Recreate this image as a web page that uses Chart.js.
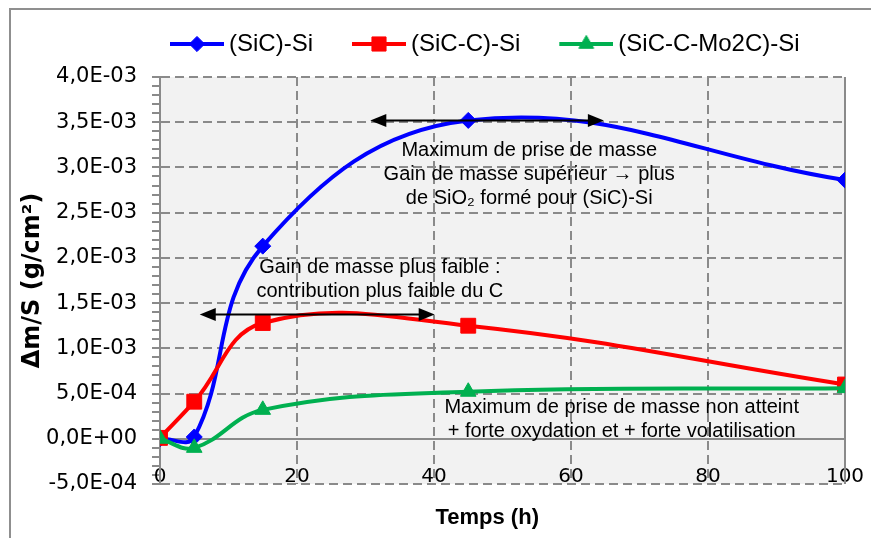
<!DOCTYPE html>
<html>
<head>
<meta charset="utf-8">
<script src="https://cdn.jsdelivr.net/npm/chart.js@4.4.1/dist/chart.umd.min.js"></script>
<style>
  body { margin: 0; background: #fff; overflow: hidden; }
  #frame { position: absolute; left: 9px; top: 8px; width: 1000px; height: 1000px; border: 2px solid #8f8f8f; box-sizing: border-box; }
  #chart { position: absolute; left: 0; top: 0; }
</style>
</head>
<body>
<div id="frame"></div>
<canvas id="chart" width="871" height="538"></canvas>
<script>
// temps (h)
const times = [0, 5, 15, 45, 100];
// delta m / S (g/cm2)
const sicSi = [0.0, 0.00002, 0.00213, 0.00352, 0.00286];
const sicCSi = [0.00001, 0.00041, 0.00128, 0.00125, 0.00060];
const sicCMo2CSi = [0.0, -0.00010, 0.00032, 0.00052, 0.00056];
const seriesNames = ['(SiC)-Si', '(SiC-C)-Si', '(SiC-C-Mo2C)-Si'];

const yTickLabels = ['-5,0E-04', '0,0E+00', '5,0E-04', '1,0E-03', '1,5E-03', '2,0E-03',
    '2,5E-03', '3,0E-03', '3,5E-03', '4,0E-03'];
const xTickLabels = ['0', '20', '40', '60', '80', '100'];

const notes = [
    { x: 53.9, y: 0.00319, lines: ['Maximum de prise de masse', 'Gain de masse supérieur → plus', 'de SiO₂ formé pour (SiC)-Si'] },
    { x: 32.1, y: 0.00189, lines: ['Gain de masse plus faible :', 'contribution plus faible du C'] },
    { x: 67.4, y: 0.00035, lines: ['Maximum de prise de masse non atteint', '+ forte oxydation et + forte volatilisation'] }
];
const arrows = [
    { x1: 30.7, x2: 64.8, y: 0.00352 },
    { x1: 5.8, x2: 40.1, y: 0.001375 }
];

const GRID = '#8a8a8a';
const FONT = 'Liberation Sans, Arial, sans-serif';
const TICKFONT = 'DejaVu Sans, sans-serif';

function isMajor(v) {
    return Math.round(v * 1e4) % 5 === 0;
}

// legend icon : line + marker
function legendIcon(color, style, radius) {
    const c = document.createElement('canvas');
    c.width = 89;
    c.height = 24;
    const ctx = c.getContext('2d');
    ctx.strokeStyle = color;
    ctx.lineWidth = 4;
    ctx.beginPath();
    ctx.moveTo(35, 12);
    ctx.lineTo(89, 12);
    ctx.stroke();
    ctx.fillStyle = color;
    ctx.lineWidth = 1;
    Chart.helpers.drawPoint(ctx, { pointStyle: style, radius: radius, borderWidth: 1, rotation: 0 }, 62, 12);
    return c;
}

function toPoints(arr) {
    return times.map((t, i) => ({ x: t, y: arr[i] }));
}

const styles = [
    { color: '#0000ff', point: 'rectRot', r: 8, order: 2 },
    { color: '#ff0000', point: 'rect', r: 10.5, order: 1 },
    { color: '#00b050', point: 'triangle', r: 9, order: 0 }
];
const values = [sicSi, sicCSi, sicCMo2CSi];

const datasets = values.map((arr, i) => ({
    label: seriesNames[i],
    data: toPoints(arr),
    borderColor: styles[i].color,
    backgroundColor: styles[i].color,
    borderWidth: 4,
    pointStyle: styles[i].point,
    pointRadius: styles[i].r,
    pointHoverRadius: styles[i].r,
    pointBackgroundColor: styles[i].color,
    pointBorderColor: styles[i].color,
    pointBorderWidth: 1,
    tension: 0.4,
    fill: false,
    order: styles[i].order
}));

const decor = {
    id: 'decor',
    afterLayout(chart) {
        chart.legend.left = 131;
        chart.legend.top = 21;
    },
    beforeDraw(chart) {
        const { ctx, chartArea: a } = chart;
        ctx.save();
        ctx.fillStyle = '#f2f2f2';
        ctx.fillRect(a.left, a.top, a.right - a.left, a.bottom - a.top);
        ctx.restore();
    },
    beforeDatasetsDraw(chart) {
        const { ctx, chartArea: a, scales: { x, y } } = chart;
        ctx.save();
        ctx.strokeStyle = GRID;
        ctx.lineWidth = 2;
        ctx.beginPath();
        const y0 = Math.round(y.getPixelForValue(0));
        ctx.moveTo(a.left, y0);
        ctx.lineTo(a.right, y0);
        ctx.moveTo(a.right, a.top);
        ctx.lineTo(a.right, a.bottom);
        ctx.stroke();
        ctx.restore();
    },
    afterDatasetsDraw(chart) {
        const { ctx, scales: { x, y } } = chart;
        ctx.save();
        ctx.strokeStyle = '#000';
        ctx.fillStyle = '#000';
        ctx.lineWidth = 2;
        arrows.forEach(ar => {
            const px1 = x.getPixelForValue(ar.x1);
            const px2 = x.getPixelForValue(ar.x2);
            const py = y.getPixelForValue(ar.y);
            ctx.beginPath();
            ctx.moveTo(px1 + 10, py);
            ctx.lineTo(px2 - 10, py);
            ctx.stroke();
            [[px1, 1], [px2, -1]].forEach(([px, d]) => {
                ctx.beginPath();
                ctx.moveTo(px, py);
                ctx.lineTo(px + d * 16, py - 6.5);
                ctx.lineTo(px + d * 16, py + 6.5);
                ctx.closePath();
                ctx.fill();
            });
        });
        ctx.font = '20px ' + FONT;
        ctx.textAlign = 'center';
        ctx.textBaseline = 'middle';
        notes.forEach(n => {
            const px = x.getPixelForValue(n.x);
            const py = y.getPixelForValue(n.y);
            n.lines.forEach((line, k) => ctx.fillText(line, px, py + k * 24));
        });
        ctx.restore();
    }
};

new Chart(document.getElementById('chart'), {
    type: 'line',
    data: { datasets: datasets },
    options: {
        responsive: false,
        animation: false,
        layout: { padding: { top: 32, right: 26, bottom: 0, left: 0 } },
        plugins: {
            tooltip: { enabled: false },
            legend: {
                position: 'top',
                align: 'start',
                labels: {
                    usePointStyle: true,
                    pointStyleWidth: 75,
                    padding: 11,
                    color: '#000',
                    font: { family: FONT, size: 24 },
                    generateLabels: chart => chart.data.datasets.map((ds, i) => ({
                        text: ds.label,
                        pointStyle: legendIcon(styles[i].color, styles[i].point, styles[i].r * 0.95),
                        datasetIndex: i,
                        fontColor: '#000',
                        fillStyle: 'transparent',
                        strokeStyle: 'transparent',
                        lineWidth: 0,
                        hidden: false
                    }))
                }
            }
        },
        scales: {
            x: {
                type: 'linear',
                min: 0,
                max: 100,
                ticks: {
                    stepSize: 20,
                    mirror: true,
                    padding: -5,
                    color: '#000',
                    font: { family: TICKFONT, size: 20 },
                    callback: v => xTickLabels[Math.round(v / 20)] ?? ''
                },
                grid: { color: GRID, lineWidth: 2, drawTicks: false },
                border: { display: false, dash: [9, 5] },
                title: {
                    display: true,
                    text: 'Temps (h)\u00a0\u00a0\u00a0\u00a0\u00a0',
                    color: '#000',
                    font: { family: FONT, size: 22, weight: 'bold' },
                    padding: { top: 0, bottom: 7 }
                },
                afterFit: s => { s.height = 54; }
            },
            y: {
                min: -0.0005,
                max: 0.004,
                ticks: {
                    stepSize: 0.0001,
                    autoSkip: false,
                    padding: 15,
                    color: '#000',
                    font: { family: TICKFONT, size: 21 },
                    callback: v => isMajor(v) ? yTickLabels[Math.round(v * 1e4 / 5) + 1] : ''
                },
                grid: {
                    color: c => (c.tick && isMajor(c.tick.value)) ? GRID : 'rgba(0,0,0,0)',
                    lineWidth: 2,
                    tickColor: GRID,
                    tickLength: 8,
                    tickWidth: 2
                },
                border: { display: true, color: GRID, width: 2, dash: [9, 5] },
                title: {
                    display: true,
                    text: 'Δm/S (g/cm²)',
                    color: '#000',
                    font: { family: 'DejaVu Sans', size: 24, weight: 'bold' },
                    padding: { top: 18, bottom: 0 }
                },
                afterFit: s => { s.width = 160; }
            }
        }
    },
    plugins: [decor]
});
</script>
</body>
</html>
